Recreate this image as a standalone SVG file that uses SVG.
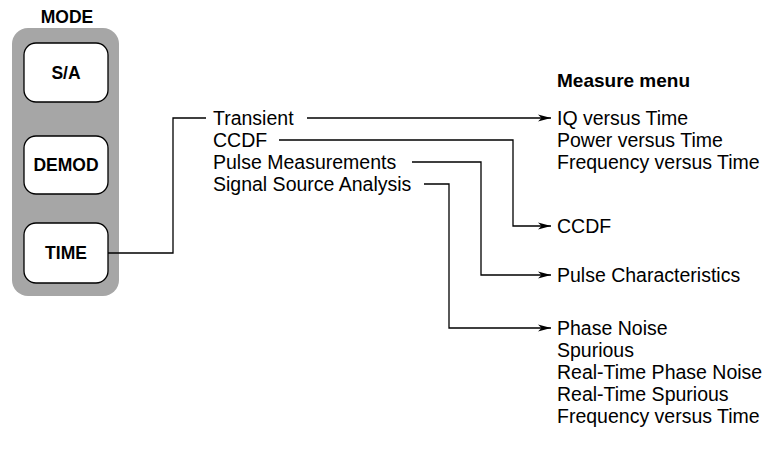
<svg xmlns="http://www.w3.org/2000/svg" width="773" height="455" viewBox="0 0 773 455">
<style>
.t{font-family:"Liberation Sans",Arial,sans-serif;font-size:19.5px;fill:#000}
.b{font-family:"Liberation Sans",Arial,sans-serif;font-size:17.5px;font-weight:bold;fill:#000}
.btn{fill:#fff;stroke:#000;stroke-width:1.3}
.ln{fill:none;stroke:#000;stroke-width:1.3}
</style>
<defs>
<marker id="ah" markerWidth="14" markerHeight="9" refX="13" refY="4.5" orient="auto" markerUnits="userSpaceOnUse">
<path d="M0,1 L13,4.5 L0,8 L3.5,4.5 z" fill="#000"/>
</marker>
</defs>
<rect width="773" height="455" fill="#fff"/>
<g id="mode-panel">
<text class="b" x="67" y="23" text-anchor="middle">MODE</text>
<rect x="12" y="28" width="107" height="268" rx="16" fill="#a6a6a6"/>
</g>
<g id="btn-sa">
<rect class="btn" x="24" y="43" width="84" height="59" rx="12"/>
<text class="b" x="66" y="79" text-anchor="middle">S/A</text>
</g>
<g id="btn-demod">
<rect class="btn" x="24" y="136" width="84" height="58" rx="12"/>
<text class="b" x="66" y="171" text-anchor="middle">DEMOD</text>
</g>
<g id="btn-time">
<rect class="btn" x="24" y="223" width="84" height="60" rx="12"/>
<text class="b" x="66" y="259" text-anchor="middle">TIME</text>
</g>
<g id="time-menu">
<text class="t" x="213" y="125">Transient</text>
<text class="t" x="213" y="147">CCDF</text>
<text class="t" x="213" y="169">Pulse Measurements</text>
<text class="t" x="213" y="191">Signal Source Analysis</text>
</g>
<g id="measure-menu">
<text class="b" x="557" y="87" style="font-size:19px">Measure menu</text>
</g>
<g id="m-transient">
<text class="t" x="557" y="125">IQ versus Time</text>
<text class="t" x="557" y="147">Power versus Time</text>
<text class="t" x="557" y="169">Frequency versus Time</text>
</g>
<g id="m-ccdf">
<text class="t" x="557" y="233">CCDF</text>
</g>
<g id="m-pulse">
<text class="t" x="557" y="282">Pulse Characteristics</text>
</g>
<g id="m-ssa">
<text class="t" x="557" y="335">Phase Noise</text>
<text class="t" x="557" y="357">Spurious</text>
<text class="t" x="557" y="379">Real-Time Phase Noise</text>
<text class="t" x="557" y="401">Real-Time Spurious</text>
<text class="t" x="557" y="423">Frequency versus Time</text>
</g>
<g id="connectors">
<polyline class="ln" points="108,253 173,253 173,118 206,118"/>
<polyline class="ln" points="307,118 551,118" marker-end="url(#ah)"/>
<polyline class="ln" points="279,140 513,140 513,226 551,226" marker-end="url(#ah)"/>
<polyline class="ln" points="412,162 481,162 481,275 551,275" marker-end="url(#ah)"/>
<polyline class="ln" points="424,184 449,184 449,328 551,328" marker-end="url(#ah)"/>
</g>
</svg>
